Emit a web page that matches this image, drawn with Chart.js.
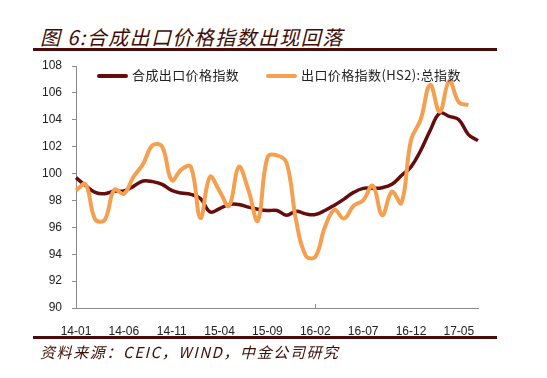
<!DOCTYPE html>
<html lang="zh">
<head>
<meta charset="UTF-8">
<title>合成出口价格指数出现回落</title>
<script src="https://cdn.jsdelivr.net/npm/chart.js"></script>
<style>
  body { margin: 0; background: #fff; }
  #wrap { position: relative; width: 547px; height: 378px; overflow: hidden; }
  #chart { position: absolute; left: 0; top: 0; }
  .title { position: absolute; left: 40px; top: 22px; font: italic 20px "Noto Sans CJK SC", sans-serif; color: #3f0d06; letter-spacing: 1.4px; white-space: nowrap; }
  .rule { position: absolute; left: 33px; width: 464px; height: 3px; background: #4a0b0b; }
  .source { position: absolute; left: 40px; top: 341px; font: italic 15px "Noto Sans CJK SC", sans-serif; color: #3f0d06; white-space: nowrap; letter-spacing: 1.6px; }
  .legend { position: absolute; top: 65px; font: 13px "Noto Sans CJK SC", serif; color: #222; white-space: nowrap; letter-spacing: 0.4px; }
  .legend i { display: inline-block; width: 31px; height: 4px; vertical-align: middle; margin-right: 4px; border-radius: 2px; }
</style>
</head>
<body>
<div id="wrap">
  <div class="title">图 6:合成出口价格指数出现回落</div>
  <div class="rule" style="top:48px"></div>
  <canvas id="chart" width="547" height="378"></canvas>
  <div class="legend" style="left:97px"><i style="background:#650c0c"></i>合成出口价格指数</div>
  <div class="legend" style="left:266px"><i style="background:#f59f50"></i>出口价格指数(HS2):总指数</div>
  <div class="rule" style="top:336px"></div>
  <div class="source">资料来源：CEIC，WIND，中金公司研究</div>
</div>
<script>
// 月份 14-01 ~ 17-07
const months = [
  '14-01','14-02','14-03','14-04','14-05','14-06','14-07','14-08','14-09','14-10','14-11','14-12',
  '15-01','15-02','15-03','15-04','15-05','15-06','15-07','15-08','15-09','15-10','15-11','15-12',
  '16-01','16-02','16-03','16-04','16-05','16-06','16-07','16-08','16-09','16-10','16-11','16-12',
  '17-01','17-02','17-03','17-04','17-05','17-06','17-07'
];

const compositeIndex = [
  99.7, 99.1, 98.6, 98.5, 98.7, 98.7, 99.05, 99.45, 99.4, 99.2, 98.75, 98.55,
  98.45, 98.15, 97.15, 97.4, 97.7, 97.7, 97.5, 97.35, 97.25, 97.25, 96.9, 97.2,
  97.0, 96.95, 97.25, 97.65, 98.1, 98.6, 98.9, 98.9, 98.95, 99.2, 99.85, 100.5,
  101.7, 103.2, 104.5, 104.25, 104.0, 102.9, 102.45
];

const hs2Index = [
  98.75, 99.2, 96.6, 96.55, 98.8, 98.5, 99.75, 100.7, 102.1, 102.0, 99.5, 100.3,
  100.5, 96.7, 99.75, 98.7, 97.6, 100.5, 98.8, 96.5, 101.2, 101.35, 100.8, 96.5,
  93.9, 93.8, 96.0, 97.3, 96.65, 97.6, 98.0, 99.1, 96.9, 98.65, 97.8, 102.5,
  104.0, 106.6, 104.6, 106.9, 105.3, 105.1, null
];

const yTicks = [90, 92, 94, 96, 98, 100, 102, 104, 106, 108];

// x 轴刻度线朝内
const innerTicks = {
  id: 'innerTicks',
  afterDraw(chart) {
    const sx = chart.scales.x, ctx = chart.ctx;
    ctx.save();
    ctx.strokeStyle = '#8a8a8a';
    ctx.lineWidth = 1;
    sx.ticks.forEach((t, i) => {
      if (i % 5 !== 0) return;
      const px = Math.round(sx.getPixelForTick(i)) + 0.5;
      ctx.beginPath();
      ctx.moveTo(px, sx.top);
      ctx.lineTo(px, sx.top - 4);
      ctx.stroke();
    });
    ctx.restore();
  }
};

new Chart(document.getElementById('chart'), {
  type: 'line',
  data: {
    labels: months,
    datasets: [
      {
        label: '出口价格指数(HS2):总指数',
        data: hs2Index,
        borderColor: '#f59f50',
        borderWidth: 4,
        tension: 0.4,
        pointRadius: 0,
        fill: false
      },
      {
        label: '合成出口价格指数',
        data: compositeIndex,
        borderColor: '#650c0c',
        borderWidth: 3.5,
        tension: 0.4,
        pointRadius: 0,
        fill: false
      }
    ]
  },
  options: {
    responsive: false,
    animation: false,
    layout: { padding: { left: 0, right: 69, top: 66, bottom: 0 } },
    plugins: { legend: { display: false }, tooltip: { enabled: false } },
    scales: {
      x: {
        grid: { display: false },
        border: { color: '#8a8a8a' },
        afterFit(s) { s.height = 70; },
        ticks: {
          autoSkip: false,
          maxRotation: 0,
          padding: 8,
          color: '#222',
          font: { family: 'Liberation Sans', size: 12 },
          callback: (v, i) => (i % 5 === 0 ? months[i] : null)
        }
      },
      y: {
        min: 90,
        max: 108,
        afterFit(s) { s.width = 76; },
        afterBuildTicks(s) { s.ticks = yTicks.map(v => ({ value: v })); },
        grid: { drawOnChartArea: false, drawTicks: true, tickLength: 4, color: '#8a8a8a' },
        border: { color: '#8a8a8a' },
        ticks: {
          padding: 10,
          color: '#222',
          font: { family: 'Liberation Sans', size: 12 }
        }
      }
    }
  },
  plugins: [innerTicks]
});
</script>
</body>
</html>
